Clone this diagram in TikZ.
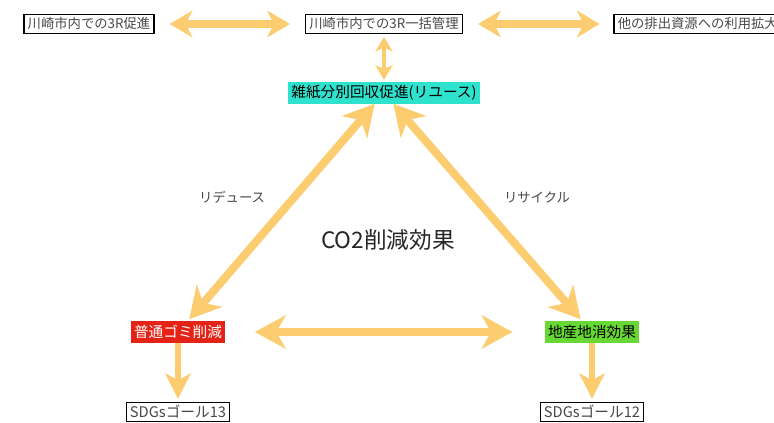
\documentclass[tikz,border=0pt]{standalone}
\usepackage{fontspec}
\setmainfont{Noto Sans CJK JP}
\usetikzlibrary{arrows.meta}

\definecolor{arrowyellow}{RGB}{252,204,112}
\definecolor{reusecyan}{RGB}{46,226,206}
\definecolor{reducered}{RGB}{228,34,22}
\definecolor{recyclegreen}{RGB}{104,216,52}
\definecolor{boxtext}{RGB}{72,72,72}

\begin{document}
\begin{tikzpicture}[x=0.75pt,y=-0.75pt,
	framebox/.style={draw=black,line width=1.2pt,fill=white,text=boxtext,font=\fontsize{11}{13}\selectfont,inner xsep=2.5pt,inner ysep=1.5pt,text height=9.5pt,text depth=2pt},
	topbox/.style={framebox,font=\fontsize{10}{12}\selectfont,inner xsep=3pt,text height=9pt},
	colorbox/.style={fill=#1,font=\fontsize{11}{13}\selectfont,inner xsep=2.5pt,inner ysep=2.5pt,text height=9.5pt,text depth=2pt},
	flow/.style={draw=arrowyellow,line width=6pt,>={Stealth[length=23pt,width=25pt,inset=7pt]}},
	topflow/.style={flow,line width=5.5pt,>={Stealth[length=17pt,width=20pt,inset=5pt]}},
	linkflow/.style={flow,line width=3pt,>={Stealth[length=11pt,width=13pt,inset=3pt]}},
	goalflow/.style={flow,line width=5pt,>={Stealth[length=19pt,width=19pt,inset=5pt]}},
	]
		\useasboundingbox (0,0) rectangle (774,422);
		
		% top row
		\node[topbox] (local3r) at (89,24) {川崎市内での3R促進};
		\node[topbox] (manage3r) at (384,24) {川崎市内での3R一括管理};
		\node[topbox,anchor=west] (expand) at (613,24) {他の排出資源への利用拡大};
		
		% triangle
		\node[colorbox=reusecyan] (reuse) at (384,92.5) {雑紙分別回収促進(リユース)};
		\node[colorbox=reducered,text=white] (reduce) at (178,332) {普通ゴミ削減};
		\node[colorbox=recyclegreen] (recycle) at (592,332) {地産地消効果};
		
		\node[framebox] (goal13) at (178,412) {SDGsゴール13};
		\node[framebox] (goal12) at (592,412) {SDGsゴール12};
		
		\node[text=boxtext,font=\fontsize{10}{12}\selectfont] (reducelbl) at (232,197) {リデュース};
		\node[text=boxtext,font=\fontsize{10}{12}\selectfont] (recyclelbl) at (537,197) {リサイクル};
		\node[text=black!85,font=\fontsize{17}{20}\selectfont] (co2) at (388,240) {CO2削減効果};
		
		\draw[topflow,<->,shorten <=11pt,shorten >=11pt] (local3r) -- (manage3r);
		\draw[topflow,<->,shorten <=11pt,shorten >=10pt] (manage3r) -- (expand);
		\draw[linkflow,<->,shorten <=2pt,shorten >=1pt] (manage3r.south) -- (reuse.north);
		
		\draw[flow,<->,shorten >=1.5pt] ([xshift=-7pt]reuse.south) -- ([xshift=7.5pt]reduce.north);
		\draw[flow,<->,shorten >=1.5pt] ([xshift=7pt]reuse.south) -- ([xshift=-7.5pt]recycle.north);
		\draw[flow,<->,shorten <=22pt,shorten >=24pt] (reduce) -- (recycle);
		
		\draw[goalflow,->,shorten >=2pt] (reduce.south) -- (goal13.north);
		\draw[goalflow,->,shorten >=2pt] (recycle.south) -- (goal12.north);
	\end{tikzpicture}
\end{document}
